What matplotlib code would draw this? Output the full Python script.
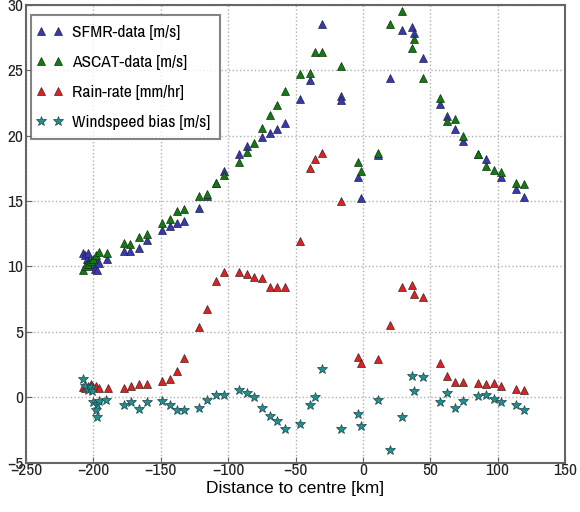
import os
import matplotlib
matplotlib.use('Agg')
import matplotlib.pyplot as plt
from matplotlib import font_manager
from matplotlib.font_manager import FontProperties
from matplotlib.legend_handler import HandlerLine2D

# jednotlive serie
sfmr_x = [-208, -206, -205, -204, -203, -201, -200, -199, -198, -197, -196, -190,
          -177.6, -172.7, -166.5, -160.3, -149.2, -143.5, -138, -133.1, -121.3, -115.8,
          -109.1, -103.4, -92.3, -86.1, -75.0, -68.8, -63.4, -57.7, -46.5, -39.1, -30.0,
          -16.1, -16.1, -3.3, -1.3, 11.1, 20.5, 28.9, 36.3, 37.6, 44.5, 57.4, 62.3, 68.5,
          74.7, 85.3, 91.5, 102.6, 113.8, 119.7]
sfmr_y = [11.0, 10.9, 10.6, 11.0, 10.4, 10.2, 10.0, 9.8, 10.5, 9.7, 10.3, 10.6,
          11.2, 11.2, 11.4, 12.0, 12.8, 13.1, 13.35, 13.5, 14.5, 15.4,
          16.4, 17.3, 18.6, 19.2, 19.9, 20.2, 20.5, 20.95, 22.8, 24.25, 28.5,
          23.0, 22.7, 16.8, 15.2, 18.5, 24.4, 28.05, 28.3, 27.8, 25.95, 22.4, 21.5, 20.5,
          19.6, 18.6, 18.2, 16.8, 15.9, 15.3]

ascat_x = [-208, -206, -204, -202, -200, -198, -196, -190, -177.6, -172.7, -166.5,
           -160.3, -149.2, -143.5, -138, -133.1, -121.3, -115.8, -109.1, -103.4, -92.3,
           -86.1, -80.7, -75.0, -68.8, -63.4, -57.7, -46.5, -39.1, -35.9, -30.0, -16.1,
           -3.3, -1.3, 11.1, 20.5, 28.9, 36.3, 37.6, 44.5, 57.4, 62.3, 68.5, 74.7, 85.3,
           91.5, 97.7, 102.6, 113.8, 119.7]
ascat_y = [9.7, 10.0, 10.2, 10.4, 10.6, 10.9, 11.1, 11.0, 11.8, 11.7, 12.25,
           12.5, 13.3, 13.65, 14.2, 14.4, 15.4, 15.55, 16.35, 17.0, 18.0,
           18.75, 19.4, 20.6, 21.6, 22.3, 23.4, 24.7, 24.8, 26.35, 26.35, 25.3,
           18.0, 17.3, 18.7, 28.5, 29.5, 26.7, 27.4, 24.4, 22.85, 21.1, 21.3, 20.0, 18.6,
           17.65, 17.4, 17.2, 16.4, 16.3]

rain_x = [-208, -206, -204, -202, -200, -198, -196, -189.5, -177.6, -172.2, -166.5,
          -160.3, -149.2, -143.5, -138, -133.1, -121.3, -115.8, -109.1, -103.4, -92.3,
          -86.1, -80.7, -75.0, -68.8, -63.4, -57.7, -46.5, -39.1, -35.9, -30.0, -16.1,
          -3.3, -1.3, 11.1, 20.5, 28.9, 36.3, 37.6, 44.5, 57.4, 62.3, 68.5, 74.7, 85.3,
          91.5, 97.7, 102.6, 113.8, 119.7]
rain_y = [0.8, 0.7, 0.9, 1.0, 0.8, 0.9, 0.7, 0.7, 0.7, 0.85, 1.05,
          1.05, 1.25, 1.4, 2.0, 3.0, 5.35, 6.75, 8.9, 9.6, 9.6,
          9.4, 9.2, 9.15, 8.4, 8.45, 8.45, 11.95, 17.5, 18.2, 18.7, 15.0,
          3.05, 2.6, 2.95, 5.5, 8.4, 8.6, 7.9, 7.7, 2.6, 1.65, 1.2, 1.15, 1.1,
          1.05, 1.1, 0.85, 0.65, 0.6]

bias_x = [-208, -206, -204, -202, -201, -200, -198, -197.5, -197, -196, -190.5,
          -177.6, -172.2, -166.5, -160.3, -149.2, -143.5, -138, -133.1, -121.3, -115.8,
          -109.1, -103.4, -92.3, -86.1, -80.7, -75.0, -68.8, -63.4, -57.7, -46.5, -39.1,
          -35.9, -30.0, -16.1, -3.3, -1.3, 11.1, 20.5, 28.9, 36.3, 37.6, 44.5, 57.4, 62.3,
          68.5, 74.7, 85.3, 91.5, 97.7, 102.6, 113.8, 119.7]
bias_y = [1.4, 0.9, 0.6, 0.8, 0.5, -0.35, -1.0, -0.5, -1.5, -0.3, -0.2,
          -0.6, -0.35, -0.85, -0.35, -0.3, -0.55, -0.95, -0.95, -0.8, -0.2,
          0.15, 0.15, 0.55, 0.35, 0.0, -0.8, -1.45, -1.8, -2.4, -2.0, -0.6,
          0.0, 2.2, -2.45, -1.3, -2.2, -0.2, -4.0, -1.5, 1.6, 0.5, 1.55, -0.35, 0.35,
          -0.8, -0.3, 0.1, 0.2, -0.15, -0.35, -0.55, -0.95]

labels = ['SFMR-data [m/s]', 'ASCAT-data [m/s]', 'Rain-rate [mm/hr]', 'Windspeed bias [m/s]']

# uzke pismo jako v originalu, kdyz neni tak DejaVu
files = {os.path.basename(f.fname): f.fname for f in font_manager.fontManager.ttflist}
narrow_file = None
for fn in ['LiberationSansNarrow-Regular.ttf', 'ArchivoNarrow[wght].ttf',
           'BarlowSemiCondensed-Regular.ttf', 'DejaVuSansCondensed.ttf']:
    if fn in files:
        narrow_file = files[fn]
        break


def narrow(size):
    if narrow_file:
        return FontProperties(fname=narrow_file, size=size)
    return FontProperties(family='DejaVu Sans', size=size * 0.8)


fig = plt.figure(figsize=(5.8, 5.12), dpi=100)
ax = fig.add_axes([0.045, 0.096, 0.929, 0.895])

ms = 6
ax.plot(sfmr_x, sfmr_y, '^', color='#3838b0', mec='#222244', mew=0.5, ms=ms, label=labels[0])
ax.plot(ascat_x, ascat_y, '^', color='#137a13', mec='#113311', mew=0.5, ms=ms, label=labels[1])
ax.plot(rain_x, rain_y, '^', color='#dd2222', mec='#442222', mew=0.5, ms=ms, label=labels[2])
ax.plot(bias_x, bias_y, '*', color='#1f8f8f', mec='#224444', mew=0.5, ms=7, label=labels[3])

ax.set_xlim(-250, 150)
ax.set_ylim(-5, 30)
ax.set_xticks(range(-250, 151, 50))
ax.set_yticks(range(-5, 31, 5))
ax.grid(True, linestyle=':', color='#b0b0b0', linewidth=1.0)
for s in ax.spines.values():
    s.set_color('#666666')
    s.set_linewidth(1.5)
ax.tick_params(direction='in', length=4, color='#666666')
ax.tick_params(axis='x', pad=0)
ax.tick_params(axis='y', pad=2)
for t in ax.get_xticklabels() + ax.get_yticklabels():
    t.set_fontproperties(narrow(12.5))
    t.set_color('#222222')

ax.set_xlabel('Distance to centre [km]', fontfamily='Liberation Sans', fontsize=12.5, labelpad=2)

leg = ax.legend(loc='upper left', bbox_to_anchor=(0.0093, 0.977), borderaxespad=0,
                numpoints=2, fancybox=False, prop=narrow(12.5),
                handler_map={plt.Line2D: HandlerLine2D(marker_pad=0, numpoints=2)},
                handletextpad=0.8, labelspacing=0.85, handlelength=1.0, borderpad=0.55)
leg.get_frame().set_edgecolor('#666666')
leg.get_frame().set_linewidth(1.5)

fig.savefig('out.png', dpi=100)
